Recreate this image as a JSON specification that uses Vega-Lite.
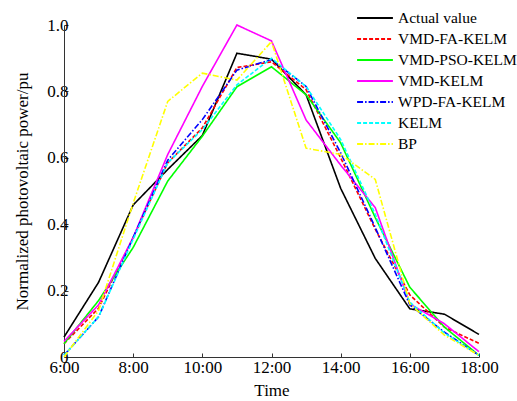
{
  "$schema": "https://vega.github.io/schema/vega-lite/v6.json",
  "width": 415,
  "height": 332,
  "autosize": {"type": "none"},
  "padding": {"left": 64, "top": 25, "right": 38, "bottom": 44},
  "background": "white",
  "config": {
    "view": {"stroke": null},
    "font": "Liberation Serif",
    "axis": {"grid": false, "domainColor": "#333333", "tickColor": "#333333", "labelColor": "#000000", "titleColor": "#000000", "labelFont": "Liberation Serif", "titleFont": "Liberation Serif", "labelFontSize": 17, "titleFontSize": 17, "titleFontWeight": "normal", "domainWidth": 1, "tickWidth": 1}
  },
  "data": {"values": [
    {"hour": 6, "series": "Actual value", "value": 0.06},
    {"hour": 7, "series": "Actual value", "value": 0.225},
    {"hour": 8, "series": "Actual value", "value": 0.458},
    {"hour": 9, "series": "Actual value", "value": 0.565},
    {"hour": 10, "series": "Actual value", "value": 0.667},
    {"hour": 11, "series": "Actual value", "value": 0.915},
    {"hour": 12, "series": "Actual value", "value": 0.897},
    {"hour": 13, "series": "Actual value", "value": 0.79},
    {"hour": 14, "series": "Actual value", "value": 0.508},
    {"hour": 15, "series": "Actual value", "value": 0.297},
    {"hour": 16, "series": "Actual value", "value": 0.145},
    {"hour": 17, "series": "Actual value", "value": 0.129},
    {"hour": 18, "series": "Actual value", "value": 0.068},

    {"hour": 6, "series": "VMD-FA-KELM", "value": 0.04},
    {"hour": 7, "series": "VMD-FA-KELM", "value": 0.147},
    {"hour": 8, "series": "VMD-FA-KELM", "value": 0.36},
    {"hour": 9, "series": "VMD-FA-KELM", "value": 0.585},
    {"hour": 10, "series": "VMD-FA-KELM", "value": 0.69},
    {"hour": 11, "series": "VMD-FA-KELM", "value": 0.872},
    {"hour": 12, "series": "VMD-FA-KELM", "value": 0.889},
    {"hour": 13, "series": "VMD-FA-KELM", "value": 0.805},
    {"hour": 14, "series": "VMD-FA-KELM", "value": 0.6},
    {"hour": 15, "series": "VMD-FA-KELM", "value": 0.385},
    {"hour": 16, "series": "VMD-FA-KELM", "value": 0.187},
    {"hour": 17, "series": "VMD-FA-KELM", "value": 0.09},
    {"hour": 18, "series": "VMD-FA-KELM", "value": 0.041},

    {"hour": 6, "series": "VMD-PSO-KELM", "value": 0.04},
    {"hour": 7, "series": "VMD-PSO-KELM", "value": 0.17},
    {"hour": 8, "series": "VMD-PSO-KELM", "value": 0.33},
    {"hour": 9, "series": "VMD-PSO-KELM", "value": 0.53},
    {"hour": 10, "series": "VMD-PSO-KELM", "value": 0.665},
    {"hour": 11, "series": "VMD-PSO-KELM", "value": 0.814},
    {"hour": 12, "series": "VMD-PSO-KELM", "value": 0.874},
    {"hour": 13, "series": "VMD-PSO-KELM", "value": 0.79},
    {"hour": 14, "series": "VMD-PSO-KELM", "value": 0.645},
    {"hour": 15, "series": "VMD-PSO-KELM", "value": 0.42},
    {"hour": 16, "series": "VMD-PSO-KELM", "value": 0.21},
    {"hour": 17, "series": "VMD-PSO-KELM", "value": 0.09},
    {"hour": 18, "series": "VMD-PSO-KELM", "value": 0.005},

    {"hour": 6, "series": "VMD-KELM", "value": 0.047},
    {"hour": 7, "series": "VMD-KELM", "value": 0.157},
    {"hour": 8, "series": "VMD-KELM", "value": 0.36},
    {"hour": 9, "series": "VMD-KELM", "value": 0.61},
    {"hour": 10, "series": "VMD-KELM", "value": 0.815},
    {"hour": 11, "series": "VMD-KELM", "value": 1.0},
    {"hour": 12, "series": "VMD-KELM", "value": 0.952},
    {"hour": 13, "series": "VMD-KELM", "value": 0.714},
    {"hour": 14, "series": "VMD-KELM", "value": 0.578},
    {"hour": 15, "series": "VMD-KELM", "value": 0.45},
    {"hour": 16, "series": "VMD-KELM", "value": 0.16},
    {"hour": 17, "series": "VMD-KELM", "value": 0.1},
    {"hour": 18, "series": "VMD-KELM", "value": 0.016},

    {"hour": 6, "series": "WPD-FA-KELM", "value": 0.005},
    {"hour": 7, "series": "WPD-FA-KELM", "value": 0.121},
    {"hour": 8, "series": "WPD-FA-KELM", "value": 0.36},
    {"hour": 9, "series": "WPD-FA-KELM", "value": 0.593},
    {"hour": 10, "series": "WPD-FA-KELM", "value": 0.715},
    {"hour": 11, "series": "WPD-FA-KELM", "value": 0.864},
    {"hour": 12, "series": "WPD-FA-KELM", "value": 0.896},
    {"hour": 13, "series": "WPD-FA-KELM", "value": 0.815},
    {"hour": 14, "series": "WPD-FA-KELM", "value": 0.615},
    {"hour": 15, "series": "WPD-FA-KELM", "value": 0.39},
    {"hour": 16, "series": "WPD-FA-KELM", "value": 0.157},
    {"hour": 17, "series": "WPD-FA-KELM", "value": 0.075},
    {"hour": 18, "series": "WPD-FA-KELM", "value": 0.005},

    {"hour": 6, "series": "KELM", "value": 0.005},
    {"hour": 7, "series": "KELM", "value": 0.121},
    {"hour": 8, "series": "KELM", "value": 0.355},
    {"hour": 9, "series": "KELM", "value": 0.585},
    {"hour": 10, "series": "KELM", "value": 0.685},
    {"hour": 11, "series": "KELM", "value": 0.82},
    {"hour": 12, "series": "KELM", "value": 0.9},
    {"hour": 13, "series": "KELM", "value": 0.815},
    {"hour": 14, "series": "KELM", "value": 0.655},
    {"hour": 15, "series": "KELM", "value": 0.43},
    {"hour": 16, "series": "KELM", "value": 0.165},
    {"hour": 17, "series": "KELM", "value": 0.072},
    {"hour": 18, "series": "KELM", "value": 0.005},

    {"hour": 6, "series": "BP", "value": 0.0},
    {"hour": 7, "series": "BP", "value": 0.14},
    {"hour": 8, "series": "BP", "value": 0.463},
    {"hour": 9, "series": "BP", "value": 0.77},
    {"hour": 10, "series": "BP", "value": 0.855},
    {"hour": 11, "series": "BP", "value": 0.834},
    {"hour": 12, "series": "BP", "value": 0.95},
    {"hour": 13, "series": "BP", "value": 0.629},
    {"hour": 14, "series": "BP", "value": 0.61},
    {"hour": 15, "series": "BP", "value": 0.535},
    {"hour": 16, "series": "BP", "value": 0.16},
    {"hour": 17, "series": "BP", "value": 0.066},
    {"hour": 18, "series": "BP", "value": 0.005}
  ]},
  "mark": {"type": "line", "strokeWidth": 1.6, "clip": false},
  "encoding": {
    "x": {"field": "hour", "type": "quantitative", "title": "Time",
      "scale": {"domain": [6, 18], "nice": false, "zero": false},
      "axis": {"values": [6, 8, 10, 12, 14, 16, 18], "labelExpr": "datum.value + ':00'", "tickSize": -4, "labelPadding": 6, "titlePadding": 7, "labelFlush": false}},
    "y": {"field": "value", "type": "quantitative", "title": "Normalized photovoltaic power/pu",
      "scale": {"domain": [0, 1], "nice": false},
      "axis": {"values": [0, 0.2, 0.4, 0.6, 0.8, 1.0], "labelExpr": "datum.value == 0 ? '0' : format(datum.value, '.1f')", "tickSize": -4, "labelPadding": 0, "titlePadding": 15, "labelFlush": false}},
    "color": {"field": "series", "type": "nominal",
      "sort": ["Actual value", "VMD-FA-KELM", "VMD-PSO-KELM", "VMD-KELM", "WPD-FA-KELM", "KELM", "BP"],
      "scale": {"domain": ["Actual value", "VMD-FA-KELM", "VMD-PSO-KELM", "VMD-KELM", "WPD-FA-KELM", "KELM", "BP"],
        "range": ["#000000", "#ff0000", "#00ff00", "#ff00ff", "#0000ff", "#00ffff", "#ffff00"]},
      "legend": {"title": null, "orient": "none", "legendX": 303, "legendY": -15, "padding": 0, "symbolType": "M-2.6,0H2.6", "symbolSize": 190, "symbolStrokeWidth": 2, "labelFont": "Liberation Serif", "labelFontSize": 15.5, "labelColor": "#000000", "rowPadding": 4, "labelOffset": 15, "labelLimit": 200}},
    "strokeDash": {"field": "series", "type": "nominal",
      "sort": ["Actual value", "VMD-FA-KELM", "VMD-PSO-KELM", "VMD-KELM", "WPD-FA-KELM", "KELM", "BP"],
      "scale": {"domain": ["Actual value", "VMD-FA-KELM", "VMD-PSO-KELM", "VMD-KELM", "WPD-FA-KELM", "KELM", "BP"],
        "range": [[1, 0], [4, 2], [1, 0], [1, 0], [6, 2, 1.5, 2], [4, 2], [6, 2, 1.5, 2]]},
      "legend": {"title": null, "orient": "none", "legendX": 303, "legendY": -15, "padding": 0, "symbolType": "M-2.6,0H2.6", "symbolSize": 190, "symbolStrokeWidth": 2, "labelFont": "Liberation Serif", "labelFontSize": 15.5, "labelColor": "#000000", "rowPadding": 4, "labelOffset": 15, "labelLimit": 200}}
  }
}
